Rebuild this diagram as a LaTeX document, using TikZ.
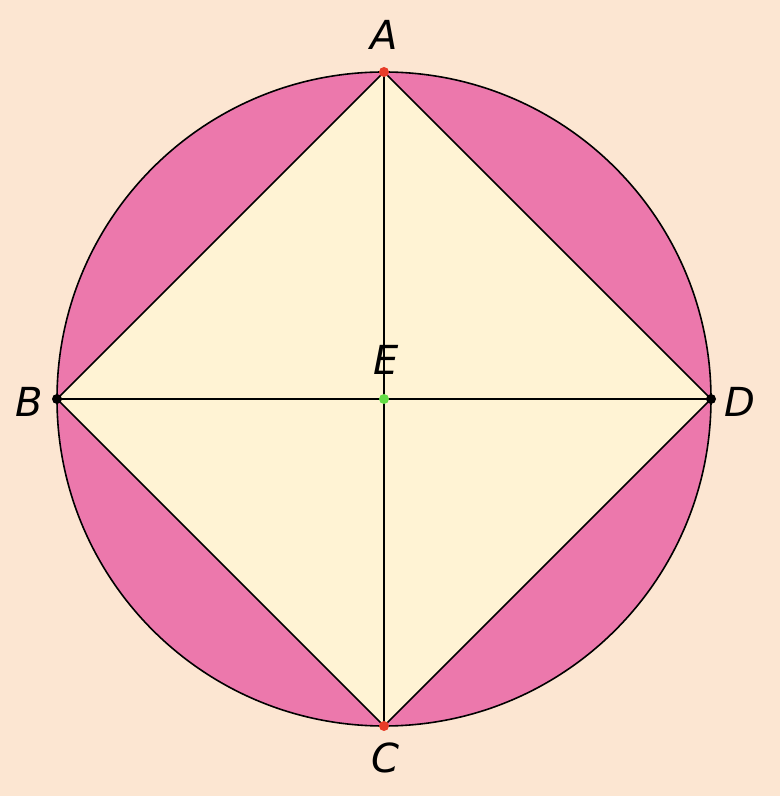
\documentclass[tikz,border=0pt]{standalone}
\usepackage{fontspec}
\newfontfamily\lblfont{DejaVu Sans}
\definecolor{peach}{RGB}{252,230,210}
\definecolor{segpink}{RGB}{236,120,172}
\definecolor{cream}{RGB}{255,243,212}
\definecolor{ptred}{RGB}{232,60,40}
\definecolor{ptgreen}{RGB}{100,222,70}

\begin{document}
\begin{tikzpicture}[x=1pt, y=1pt, line width=1.6pt,
        lbl/.style = {font=\lblfont\itshape\fontsize{40}{42}\selectfont, inner sep=0pt},
        dot/.style = {circle, inner sep=0pt, minimum size=10pt}]

        \fill[peach] (0,0) rectangle (780,796);
        \useasboundingbox (0,0) rectangle (780,796);

        \coordinate (E) at (384,397);
        \coordinate (A) at (384,724);
        \coordinate (B) at (57,397);
        \coordinate (C) at (384,70);
        \coordinate (D) at (711,397);

        \filldraw[fill=segpink, draw=black] (E) circle (327);
        \filldraw[fill=cream, draw=black] (A) -- (B) -- (C) -- (D) -- cycle;
        \draw (A) -- (C);
        \draw (B) -- (D);

        \node[dot, fill=ptred] at (A) {};
        \node[dot, fill=black] at (B) {};
        \node[dot, fill=ptred] at (C) {};
        \node[dot, fill=black] at (D) {};
        \node[dot, fill=ptgreen] at (E) {};

        \node[lbl] (lA) at (384,761) {A};
        \node[lbl] (lB) at (29,394) {B};
        \node[lbl] (lC) at (385,38) {C};
        \node[lbl] (lD) at (740,394) {D};
        \node[lbl] (lE) at (386,436) {E};
    \end{tikzpicture}
\end{document}
